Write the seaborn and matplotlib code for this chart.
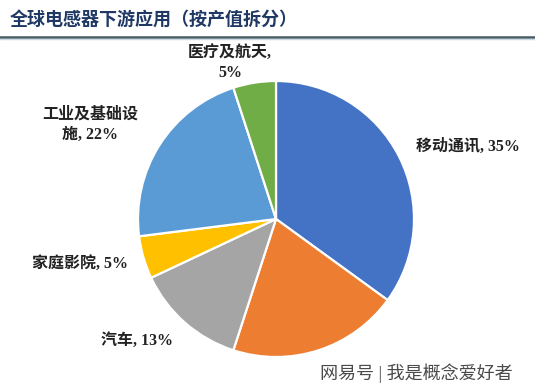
import matplotlib
matplotlib.use("Agg")
import matplotlib.pyplot as plt
import seaborn as sns

categories = ["移动通讯", "计算机", "汽车", "家庭影院", "工业及基础设施", "医疗及航天"]
values = [35, 20, 13, 5, 22, 5]
label_texts = ["移动通讯, 35%", "", "汽车, 13%", "家庭影院, 5%", "工业及基础设\n施, 22%", "医疗及航天,\n5%"]
colors = ["#4472C4", "#ED7D31", "#A5A5A5", "#FFC000", "#5B9BD5", "#70AD47"]
title = "全球电感器下游应用（按产值拆分）"
watermark = "网易号 | 我是概念爱好者"

sns.set_theme(style="white")
plt.rcParams["font.family"] = ["Liberation Serif", "Noto Sans CJK SC", "DejaVu Sans"]

W, H = 535, 392
fig = plt.figure(figsize=(W / 100, H / 100), dpi=100)
cx, cy, r = 276, 219, 138
ax = fig.add_axes([(cx - r) / W, (H - cy - r) / H, 2 * r / W, 2 * r / H])
ax.pie(values, colors=colors, startangle=90, counterclock=False,
       wedgeprops=dict(edgecolor="white", linewidth=1.6), radius=1)
ax.set_xlim(-1, 1)
ax.set_ylim(-1, 1)
ax.set_aspect("equal")
ax.axis("off")

def px(x, y):
    return ((x - cx) / r, (cy - y) / r)

label_pos = [(468, 147), None, (137, 341), (80, 264), (90, 125), (230, 63)]
for txt, pos in zip(label_texts, label_pos):
    if pos is None or not txt:
        continue
    ax.text(*px(*pos), txt, ha="center", va="center", fontsize=11.5,
            fontweight="bold", color="#222222", linespacing=1.35, clip_on=False)

ax.text(*px(416, 373), watermark, ha="center", va="center", fontsize=13,
        color="#4a4a4a", clip_on=False)

fig.text(10 / W, 1 - 19 / H, title, ha="left", va="center", fontsize=13,
         fontweight="bold", color="#1F3864",
         family=["Noto Sans CJK SC", "DejaVu Sans"])
fig.add_artist(plt.Line2D([0, 1], [1 - 36.5 / H, 1 - 36.5 / H],
                          transform=fig.transFigure, color="#465A62", linewidth=1.8))
fig.add_artist(plt.Line2D([0, 1], [1 - 39 / H, 1 - 39 / H],
                          transform=fig.transFigure, color="#C8D8E4", linewidth=1.0))

fig.savefig("out.png", dpi=100)
